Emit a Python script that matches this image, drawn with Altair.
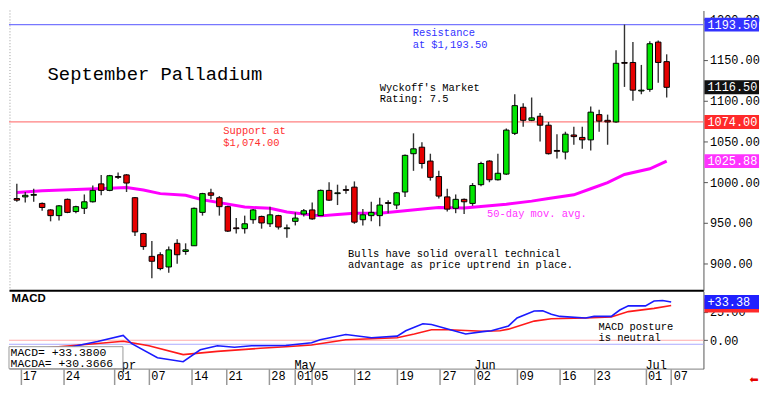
import altair as alt
import pandas as pd

# ---------------- data ----------------
dates = ["2025-03-14", "2025-03-17", "2025-03-18", "2025-03-19", "2025-03-20", "2025-03-21",
         "2025-03-24", "2025-03-25", "2025-03-26", "2025-03-27", "2025-03-28", "2025-03-31",
         "2025-04-01", "2025-04-02", "2025-04-03", "2025-04-04", "2025-04-07", "2025-04-08",
         "2025-04-09", "2025-04-10", "2025-04-11", "2025-04-14", "2025-04-15", "2025-04-16",
         "2025-04-17", "2025-04-21", "2025-04-22", "2025-04-23", "2025-04-24", "2025-04-25",
         "2025-04-28", "2025-04-29", "2025-04-30", "2025-05-01", "2025-05-02", "2025-05-05",
         "2025-05-06", "2025-05-07", "2025-05-08", "2025-05-09", "2025-05-12", "2025-05-13",
         "2025-05-14", "2025-05-15", "2025-05-16", "2025-05-19", "2025-05-20", "2025-05-21",
         "2025-05-22", "2025-05-23", "2025-05-27", "2025-05-28", "2025-05-29", "2025-05-30",
         "2025-06-02", "2025-06-03", "2025-06-04", "2025-06-05", "2025-06-06", "2025-06-09",
         "2025-06-10", "2025-06-11", "2025-06-12", "2025-06-13", "2025-06-16", "2025-06-17",
         "2025-06-18", "2025-06-20", "2025-06-23", "2025-06-24", "2025-06-25", "2025-06-26",
         "2025-06-27", "2025-06-30", "2025-07-01", "2025-07-02", "2025-07-03", "2025-07-07"]

opens = [980, 982, 984, 974, 966, 959, 979, 964, 968, 976, 998, 990, 1007, 1009, 981, 937,
         909, 911, 896, 925, 915, 922, 963, 987, 981, 970, 944, 943, 954, 958, 949, 959, 943,
         952, 961, 966, 959, 990, 986, 991, 994, 954, 959, 959, 975, 972, 988, 1035, 1043,
         1026, 1007, 982, 968, 979, 974, 997, 1026, 1003, 1010, 1060, 1092, 1076, 1081, 1070,
         1039, 1037, 1058, 1055, 1052, 1083, 1076, 1074, 1147, 1147, 1112, 1114, 1172, 1148]
highs = [998, 988, 992, 975, 967, 972, 980, 971, 985, 996, 1009, 1009, 1012, 1010, 982, 938,
         928, 914, 921, 930, 925, 969, 987, 992, 983, 971, 956, 959, 967, 959, 970, 960, 948,
         963, 967, 975, 991, 1000, 997, 996, 1001, 967, 976, 981, 978, 988, 1034, 1060, 1049,
         1035, 1014, 992, 985, 980, 999, 1025, 1027, 1035, 1066, 1108, 1097, 1104, 1085, 1074,
         1059, 1062, 1068, 1068, 1093, 1089, 1083, 1162, 1193.5, 1172, 1144, 1173, 1174, 1157]
lows = [976, 975, 976, 965, 952, 953, 962, 962, 961, 975, 984, 989, 1004, 988, 934, 917,
        882, 892, 889, 900, 911, 922, 959, 979, 959, 939, 937, 937, 949, 943, 945, 942, 932,
        947, 958, 954, 959, 977, 972, 986, 949, 947, 952, 946, 962, 967, 982, 1014, 1017,
        1002, 980, 964, 962, 961, 971, 995, 1000, 1002, 1009, 1058, 1068, 1075, 1050, 1034,
        1029, 1028, 1046, 1041, 1039, 1062, 1046, 1073, 1117, 1100, 1108, 1111, 1122, 1104]
closes = [978, 984, 985, 969, 959, 971, 963, 970, 976, 990, 990, 1008, 1006, 999, 939, 921,
          903, 894, 917, 911, 917, 968, 986, 984, 970, 940, 943, 949, 966, 950, 960, 945, 944,
          956, 965, 955, 990, 978, 987, 990, 951, 960, 963, 972, 974, 987, 1033, 1041, 1023,
          1006, 983, 967, 979, 976, 996, 1023, 1003, 1011, 1064, 1094, 1076, 1079, 1070, 1035,
          1038, 1059, 1056, 1052, 1086, 1075, 1074, 1146, 1146, 1113, 1113, 1170, 1147, 1116.5]

# 50-day moving average (trading-day index, value)
ma_days = [0, 3, 7, 11, 13, 15, 17, 20, 22, 24, 27, 30, 32, 34, 36, 38, 40, 43, 46, 49, 50,
           53, 58, 61, 63, 66, 68, 70, 72, 75, 77]
ma_vals = [987.5, 989.5, 991, 992.5, 993.5, 990.5, 986, 984, 978.5, 975, 969.5, 968, 963.5,
           961, 958.7, 960.5, 962, 962, 965, 968, 969, 968.3, 973, 976.8, 980, 984.6, 992,
           999.5, 1009.5, 1016.5, 1025.88]

# MACD (blue) and MACD average (red)
macd_days = [0, 4, 7, 10, 13, 14, 17, 20, 22, 24, 26, 28, 32, 35, 36, 39, 42, 45, 46, 48, 49,
             51, 53, 55, 56, 58, 59, 61, 62, 63, 64, 67, 68, 70, 71, 72, 74, 75, 76, 77]
macd_vals = [-9, -8.5, -5.6, -1, 4.2, -3, -15.3, -18.7, -8.3, -4.8, -6.1, -4.8, -4.5, -2.2,
             0.5, 5, 2.2, 3.6, 8.3, 14.4, 13.8, 9.7, 5.5, 7.5, 8.3, 12.5, 19.4, 25.5, 25.8,
             22.7, 20.8, 19.4, 20.8, 20.8, 26.4, 30, 30, 34.2, 34.7, 33.38]
sig_days = [0, 4, 10, 13, 16, 20, 24, 29, 32, 35, 39, 45, 47, 49, 51, 55, 57, 58, 61, 63, 67,
            70, 72, 75, 77]
sig_vals = [-8, -6.5, -2.8, -0.9, -4.8, -12.5, -9.7, -7, -5.6, -4.2, 0.5, 2.2, 5.5, 9.2, 9.2,
            7.8, 8.3, 9.7, 16.7, 18.8, 19.4, 20.3, 25, 27.8, 30.37]

# date axis
tick_days = [1, 6, 12, 16, 21, 25, 30, 33, 35, 40, 45, 50, 54, 59, 64, 68, 74, 77]
tick_labels = ["17", "24", "01", "07", "14", "21", "28", "01", "05", "12", "19", "27", "02",
               "09", "16", "23", "01", "07"]
month_days = [12, 33, 54, 74]
month_names = ["Apr", "May", "Jun", "Jul"]

price_ticks = [900, 950, 1000, 1050, 1100, 1150, 1200]
macd_ticks = [0, 25]

resistance = 1193.50
support = 1074.00
last_close = 1116.50
ma_last = 1025.88
macd_last = 33.38
macda_last = 30.3666

# ---------------- layout / style ----------------
W, H1, H2 = 700, 282, 78
XD = [-0.34, 80.77]
PD = [867.4, 1210.8]
MD = [-24.75, 42.75]
FONT = "Liberation Mono"
GREEN, RED = "#00e600", "#e60000"
BLUE_LINE, RED_LINE = "#7777ff", "#ff8080"

df = pd.DataFrame({"day": list(range(len(dates))), "date": dates, "open": opens,
                   "high": highs, "low": lows, "close": closes})
ma_df = pd.DataFrame({"day": ma_days, "ma": ma_vals})
macd_df = pd.DataFrame({"day": macd_days, "v": macd_vals})
sig_df = pd.DataFrame({"day": sig_days, "v": sig_vals})
month_df = pd.DataFrame({"day": month_days, "name": month_names})
one = pd.DataFrame({"k": [0]})

xs = alt.Scale(domain=XD, nice=False, zero=False)
ys = alt.Scale(domain=PD, nice=False, zero=False)
ms = alt.Scale(domain=MD, nice=False, zero=False)


def note(lines, day, val, color="black", size=10.5, baseline="top", weight="normal", font=FONT):
    return alt.Chart(one).mark_text(
        text=lines, align="left", baseline=baseline, font=font, fontSize=size,
        color=color, lineHeight=11.5, fontWeight=weight
    ).encode(x=alt.datum(day), y=alt.datum(val))


def tag(val, color, width=55):
    return alt.Chart(one).mark_tick(
        orient="horizontal", size=width, thickness=14, color=color, opacity=1
    ).encode(x=alt.value(W + 1 + width / 2), y=alt.datum(val))


def tag_text(val, label):
    return alt.Chart(one).mark_text(
        text=label, align="left", baseline="middle", font=FONT, fontSize=12, color="white"
    ).encode(x=alt.value(W + 4), y=alt.datum(val))


# ---------------- price panel ----------------
base = alt.Chart(df)
wick = base.mark_rule(color="#333333", strokeWidth=1.4).encode(
    x=alt.X("day:Q", scale=xs, axis=alt.Axis(labels=False, ticks=False, domainColor="black",
                                              domainWidth=2, title=None, grid=False)),
    y=alt.Y("low:Q", scale=ys,
            axis=alt.Axis(orient="right", values=price_ticks, format=".2f", title=None,
                          grid=False, labelFont=FONT, labelFontSize=12, labelColor="black",
                          tickSize=4, tickColor="#555555", domainColor="#555555",
                          labelPadding=2)),
    y2="high:Q",
)
body = base.mark_bar(size=5.5, stroke="black", strokeWidth=1).encode(
    x="day:Q", y="open:Q", y2="close:Q",
    color=alt.when(alt.datum.close >= alt.datum.open).then(alt.value(GREEN)).otherwise(alt.value(RED)),
)
ma_line = alt.Chart(ma_df).mark_line(color="#ff00ff", strokeWidth=3).encode(x="day:Q", y="ma:Q")

res_rule = alt.Chart(one).mark_rule(color=BLUE_LINE, strokeWidth=1.2).encode(y=alt.datum(resistance))
sup_rule = alt.Chart(one).mark_rule(color=RED_LINE, strokeWidth=1.2).encode(y=alt.datum(support))
left_dots = alt.Chart(one).mark_rule(color="#999999", strokeDash=[1, 2]).encode(x=alt.value(1))

price = alt.layer(
    left_dots, res_rule, sup_rule, ma_line, wick, body,
    note("September Palladium", 3.64, 1133, size=19, baseline="middle"),
    note(["Resistance", "at $1,193.50"], 46.9, 1188.7, color="#3333ff"),
    note(["Wyckoff's Market", "Rating: 7.5"], 43.0, 1122),
    note(["Support at", "$1,074.00"], 24.46, 1068.7, color="#ff3030"),
    note("50-day mov. avg.", 55.7, 960.6, color="#ff33ff", baseline="middle"),
    note(["Bulls have solid overall technical", "advantage as price uptrend in place."],
         39.25, 917.9),
    tag(resistance, "#3333ff"), tag_text(resistance, f"{resistance:.2f}"),
    tag(last_close, "#111111"), tag_text(last_close, f"{last_close:.2f}"),
    tag(support, "#ff2a2a"), tag_text(support, f"{support:.2f}"),
    tag(ma_last, "#ff33ff"), tag_text(ma_last, f"{ma_last:.2f}"),
).properties(width=W, height=H1)

# ---------------- MACD panel ----------------
label_expr = ("[" + ",".join(f"'{t}'" for t in tick_labels) + "][indexof(["
              + ",".join(str(d) for d in tick_days) + "], datum.value)]")

zero_rule = alt.Chart(one).mark_rule(color="#ffaaaa", strokeWidth=1).encode(
    x=alt.X(datum=XD[0], scale=xs,
            axis=alt.Axis(values=tick_days, labelExpr=label_expr, title=None, grid=False,
                          tickSize=16, tickColor="#999999", tickWidth=1.5,
                          domainColor="#999999", domainWidth=1.5, labelAlign="left",
                          labelBaseline="top", labelPadding=-14, labelOffset=2,
                          labelFont=FONT, labelFontSize=12, labelColor="black")),
    x2=alt.datum(XD[1]),
    y=alt.Y(datum=0, scale=ms,
            axis=alt.Axis(orient="right", values=macd_ticks, format=".2f", title=None,
                          grid=False, labelFont=FONT, labelFontSize=12, labelColor="black",
                          tickSize=4, tickColor="#555555", domainColor="#555555",
                          labelPadding=2)),
)
blue_ref = alt.Chart(one).mark_rule(color="#aaaaff", strokeWidth=1).encode(y=alt.datum(-3.5))
macd_line = alt.Chart(macd_df).mark_line(color="#1a1aff", strokeWidth=1.6).encode(
    x="day:Q", y="v:Q")
sig_line = alt.Chart(sig_df).mark_line(color="#ff1a1a", strokeWidth=1.6).encode(
    x="day:Q", y="v:Q")
months = alt.Chart(month_df).mark_text(
    align="left", baseline="middle", font=FONT, fontSize=12, color="black"
).encode(x="day:Q", y=alt.datum(-21.7), text="name:N")
val_box = alt.Chart(one).mark_rect(fill="white", stroke="#999999", strokeWidth=1).encode(
    x=alt.datum(XD[0]), x2=alt.datum(12.97), y=alt.datum(-5.6), y2=alt.datum(MD[0]))
val_text = alt.Chart(one).mark_text(
    text=[f"MACD=  {macd_last:+.4f}", f"MACDA= {macda_last:+.4f}"], align="left",
    baseline="top", font=FONT, fontSize=11.5, lineHeight=11, color="black"
).encode(x=alt.datum(-0.15), y=alt.datum(-5.9))
arrow = alt.Chart(one).mark_text(
    text="\u2b05", font="DejaVu Sans", fontSize=11, color="#e60000",
    align="center", baseline="middle"
).encode(x=alt.value(W + 51), y=alt.value(H2 + 11))

macd = alt.layer(
    zero_rule, blue_ref, sig_line, macd_line, months, val_box, val_text,
    note("MACD", -0.05, 41.2, size=11.5, weight="bold", font="Liberation Sans"),
    note(["MACD posture", "is neutral"], 68.5, 16.3),
    tag(macda_last, "#ff2a2a"),
    tag(macd_last, "#2020ff"), tag_text(macd_last, f"{macd_last:+.2f}"),
    arrow,
).properties(width=W, height=H2)

chart = alt.vconcat(price, macd, spacing=0).properties(
    padding=0, background="white"
).configure_view(stroke=None)

chart.save("out.html", embed_options={"renderer": "svg", "actions": False})
